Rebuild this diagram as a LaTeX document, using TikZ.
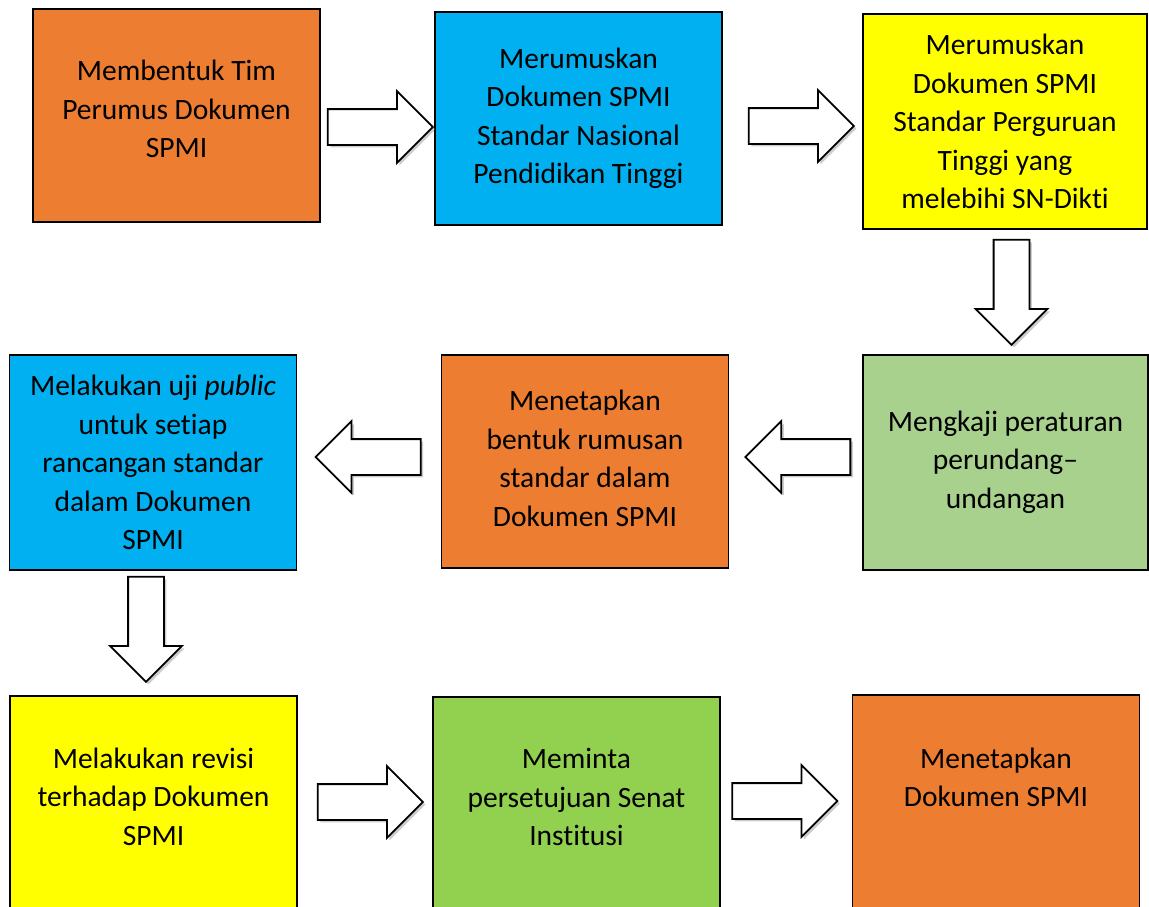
\documentclass[tikz,border=0pt]{standalone}
\usepackage{fontspec}
\setmainfont{Carlito}[Ligatures=NoCommon]
\usetikzlibrary{positioning,shapes.arrows,shadows,calc}

\definecolor{spmiorange}{HTML}{ED7D31}
\definecolor{spmiblue}{HTML}{00B0F0}
\definecolor{spmiyellow}{HTML}{FFFF00}
\definecolor{spmisage}{HTML}{A9D18E}
\definecolor{spmigreen}{HTML}{92D050}

\tikzset{
  stepbox/.style={draw=black,line width=1.8pt,rectangle,minimum width=287pt,minimum height=213pt,
    align=center,inner sep=0pt,font=\fontsize{29.5}{38.5}\selectfont},
  flowarrow/.style={single arrow,draw=black,fill=white,line width=1.8pt,
    single arrow head extend=18pt,minimum height=105pt,inner sep=17pt,anchor=tip,
    drop shadow={shadow xshift=2.5pt,shadow yshift=-2.5pt,opacity=.4}},
  toright/.style={flowarrow,shape border rotate=0},
  toleft/.style={flowarrow,shape border rotate=180},
  todown/.style={flowarrow,shape border rotate=270}
}

\begin{document}
\begin{tikzpicture}[x=1pt,y=-1pt]
    \useasboundingbox (0,0) rectangle (1149,906);
    % first row
    \node[stepbox,fill=spmiorange] (tim) at (176.5,115.5) {Membentuk Tim\\Perumus Dokumen\\SPMI\\[-26pt]\mbox{}};
    \node[stepbox,fill=spmiblue] (snpt) at (578.5,118.5) {Merumuskan\\Dokumen SPMI\\Standar Nasional\\Pendidikan Tinggi};
    \node[stepbox,fill=spmiyellow,minimum width=284pt,minimum height=215pt] (spt) at (1005,121.5) {Merumuskan\\Dokumen SPMI\\Standar Perguruan\\Tinggi yang\\melebihi SN-Dikti};
    % second row
    \node[stepbox,fill=spmisage,minimum width=285pt,minimum height=215pt] (kaji) at (1005.5,462.5) {Mengkaji peraturan\\perundang--\\undangan\\[-32pt]\mbox{}};
    \node[stepbox,fill=spmiorange] (rumusan) at (585,461.5) {Menetapkan\\bentuk rumusan\\standar dalam\\Dokumen SPMI\\[-32pt]\mbox{}};
    \node[stepbox,fill=spmiblue,minimum height=215pt] (uji) at (153,462.5) {Melakukan uji \textit{public}\\untuk setiap\\rancangan standar\\dalam Dokumen\\SPMI};
    % third row
    \node[stepbox,fill=spmiyellow] (revisi) at (153.5,802.5) {Melakukan revisi\\terhadap Dokumen\\SPMI\\[-26pt]\mbox{}};
    \node[stepbox,fill=spmigreen] (senat) at (576.5,803.5) {Meminta\\persetujuan Senat\\Institusi\\[-26pt]\mbox{}};
    \node[stepbox,fill=spmiorange] (tetap) at (996,801.5) {Menetapkan\\Dokumen SPMI\\[10pt]\mbox{}};
    % block arrows
    \node[toright] (a1) at ($(snpt.west)+(0,8.5)$) {};
    \node[toright] (a2) at ($(spt.west)+(-7,4.5)$) {};
    \node[todown] (a3) at ($(kaji.north)+(6,-8)$) {};
    \node[toleft] (a4) at ($(kaji.west)+(-118,-5.5)$) {};
    \node[toleft] (a5) at ($(uji.east)+(17,-5.5)$) {};
    \node[todown] (a6) at ($(revisi.north)+(-7.5,-12)$) {};
    \node[toright] (a7) at ($(senat.west)+(-8,-1.5)$) {};
    \node[toright] (a8) at ($(tetap.west)+(-13,-0.5)$) {};
\end{tikzpicture}
\end{document}
